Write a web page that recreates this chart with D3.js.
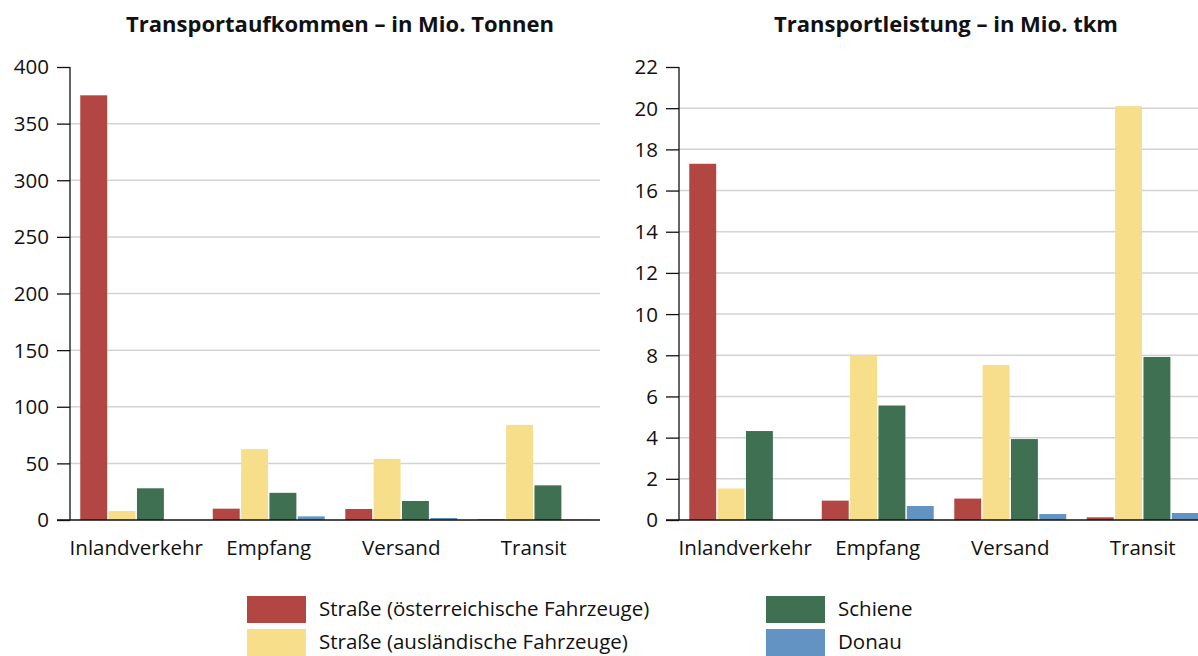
<!DOCTYPE html>
<html lang="de">
<head>
<meta charset="UTF-8">
<title>Transportaufkommen und Transportleistung</title>
<script src="https://cdn.jsdelivr.net/npm/d3@7"></script>
<style>
  body { margin: 0; background: #fff; }
  svg text { font-family: "Open Sans", Lato, sans-serif; fill: #111; }
  .title { font-weight: bold; font-size: 22px; }
  .tick text { font-size: 20.5px; }
  .cat { font-size: 20.5px; }
  .legend text { font-size: 20.5px; }
  .grid line { stroke: #d3d3d3; stroke-width: 1.5px; }
</style>
</head>
<body>
<script>
  const categories = ["Inlandverkehr", "Empfang", "Versand", "Transit"];
  const seriesNames = ["Straße (österreichische Fahrzeuge)", "Straße (ausländische Fahrzeuge)", "Schiene", "Donau"];
  const colors = ["#b24642", "#f6de8b", "#3e7051", "#6393c3"];

  // Transportaufkommen in Mio. Tonnen, one array per series
  const tonsRoadAT  = [375, 10, 9.7, 0.6];
  const tonsRoadFor = [8, 62.6, 54, 84];
  const tonsRail    = [28, 24, 16.8, 30.6];
  const tonsDanube  = [0, 3.2, 1.8, 0.3];

  // Transportleistung in Mio. tkm
  const tkmRoadAT  = [17.3, 0.94, 1.04, 0.13];
  const tkmRoadFor = [1.53, 8.0, 7.53, 20.1];
  const tkmRail    = [4.32, 5.56, 3.93, 7.92];
  const tkmDanube  = [0, 0.68, 0.29, 0.34];

  const leftTicks = [0, 50, 100, 150, 200, 250, 300, 350, 400];
  const rightTicks = [0, 2, 4, 6, 8, 10, 12, 14, 16, 18, 20, 22];

  const W = 1198, H = 656;
  const svg = d3.select("body").append("svg").attr("width", W).attr("height", H);

  function panel(opts) {
    const g = svg.append("g");
    const y = d3.scaleLinear().domain([0, opts.max]).range([520, 67]);
    const x = d3.scaleBand().domain(categories).range([opts.x0, opts.x0 + 530])
      .paddingInner(0.155).paddingOuter(0.0775);
    const xs = d3.scaleBand().domain(d3.range(4)).range([0, x.bandwidth()]).paddingInner(0.05);

    g.append("text").attr("class", "title")
      .attr("x", opts.titleX).attr("y", 32).attr("text-anchor", "middle")
      .text(opts.title);

    // gridlines (not at 0 and not at the top tick)
    g.append("g").attr("class", "grid")
      .selectAll("line").data(opts.ticks.slice(1, -1)).join("line")
      .attr("x1", opts.x0).attr("x2", opts.gridEnd)
      .attr("y1", d => y(d)).attr("y2", d => y(d));

    const data = [];
    opts.series.forEach((vals, si) => vals.forEach((v, ci) => data.push({ si, cat: categories[ci], v })));

    g.append("g").selectAll("rect").data(data.filter(d => d.v > 0)).join("rect")
      .attr("x", d => x(d.cat) + xs(d.si))
      .attr("width", xs.bandwidth())
      .attr("y", d => y(d.v))
      .attr("height", d => y(0) - y(d.v))
      .attr("fill", d => colors[d.si]);

    const axis = g.append("g").attr("transform", `translate(${opts.x0},0)`)
      .call(d3.axisLeft(y).tickValues(opts.ticks).tickSize(13).tickPadding(8));
    axis.select(".domain").remove();
    axis.selectAll(".tick line").attr("stroke", "#111").attr("stroke-width", 1.3);
    axis.selectAll(".tick text").attr("dy", "0.34em");

    g.append("line").attr("x1", opts.x0).attr("x2", opts.x0)
      .attr("y1", y(opts.max)).attr("y2", y(0))
      .attr("stroke", "#111").attr("stroke-width", 1.3);
    g.append("line").attr("x1", opts.x0 - 13).attr("x2", opts.gridEnd)
      .attr("y1", y(0)).attr("y2", y(0))
      .attr("stroke", "#111").attr("stroke-width", 1.3);

    g.append("g").selectAll("text").data(categories).join("text")
      .attr("class", "cat")
      .attr("x", d => x(d) + x.bandwidth() / 2)
      .attr("y", 555).attr("text-anchor", "middle")
      .text(d => d);
  }

  panel({
    title: "Transportaufkommen – in Mio. Tonnen", titleX: 340,
    x0: 70, gridEnd: 600, max: 400, ticks: leftTicks,
    series: [tonsRoadAT, tonsRoadFor, tonsRail, tonsDanube]
  });

  panel({
    title: "Transportleistung – in Mio. tkm", titleX: 946,
    x0: 679, gridEnd: 1198, max: 22, ticks: rightTicks,
    series: [tkmRoadAT, tkmRoadFor, tkmRail, tkmDanube]
  });

  // legend in two columns
  const legendPos = [[247, 596], [247, 629], [766, 596], [766, 629]];
  const legend = svg.append("g").attr("class", "legend");
  seriesNames.forEach((name, i) => {
    const [lx, ly] = legendPos[i];
    legend.append("rect").attr("x", lx).attr("y", ly).attr("width", 59).attr("height", 27)
      .attr("fill", colors[i]);
    legend.append("text").attr("x", lx + 72).attr("y", ly + 20).text(name);
  });
</script>
</body>
</html>
